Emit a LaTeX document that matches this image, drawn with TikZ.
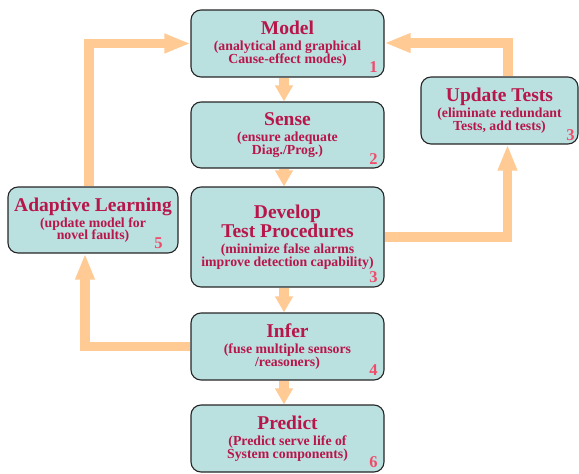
\documentclass[tikz,border=0pt]{standalone}
\usepackage{fontspec}
\setmainfont{Liberation Serif}
\usetikzlibrary{arrows.meta}
\definecolor{boxfill}{HTML}{BBE0E0}
\definecolor{ttl}{HTML}{B8164A}
\definecolor{numc}{HTML}{F04C6A}
\definecolor{arr}{HTML}{FFCA94}
\newcommand{\bxtext}[3]{\parbox{#1}{\centering\color{ttl}\bfseries\lineskiplimit=-30pt
  \fontsize{19.5}{19}\selectfont #2\par\vspace{3.5pt}%
  \fontsize{13.8}{12.5}\selectfont #3\par}}
\tikzset{
  stage/.style={draw=black!85, line width=1.1pt, fill=boxfill, rounded corners=10pt,
    inner sep=0pt, align=center},
  num/.style={text=numc, font=\bfseries\fontsize{16.5}{16}\selectfont, inner sep=0pt},
  longarrow/.style={draw=arr, line width=9.5pt, line join=miter,
    -{Triangle[length=26pt,width=18pt]}},
  shortarrow/.style={draw=arr, line width=9.5pt,
    -{Triangle[length=16pt,width=17pt]}},
}
\begin{document}
\begin{tikzpicture}[x=1pt,y=-1pt]
\useasboundingbox (0,0) rectangle (579,474);
% boxes
\node[stage, minimum width=193pt, minimum height=67pt] (model) at (287.5,43.5)
  {\bxtext{190pt}{Model}{(analytical and graphical\\Cause-effect modes)}};
\node[stage, minimum width=193pt, minimum height=66pt] (sense) at (287.5,135)
  {\bxtext{190pt}{Sense}{(ensure adequate\\Diag./Prog.)}};
\node[stage, minimum width=193pt, minimum height=100pt] (dev) at (287.5,237)
  {\bxtext{190pt}{Develop\\Test Procedures}{(minimize false alarms\\improve detection capability)}};
\node[stage, minimum width=193pt, minimum height=67pt] (infer) at (287.5,346.5)
  {\bxtext{190pt}{Infer}{(fuse multiple sensors\\/reasoners)}};
\node[stage, minimum width=193pt, minimum height=67pt] (pred) at (287.5,438.5)
  {\bxtext{190pt}{Predict}{(Predict serve life of\\System components)}};
\node[stage, minimum width=157pt, minimum height=67pt] (upd) at (499.5,110.5)
  {\bxtext{155pt}{Update Tests}{(eliminate redundant\\Tests, add tests)}};
\node[stage, minimum width=170pt, minimum height=66pt] (adapt) at (93,220)
  {\bxtext{168pt}{Adaptive Learning}{(update model for\\novel faults)}};
% numbers
\node[num] (n1) at ([xshift=-11pt,yshift=10pt]model.south east) {1};
\node[num] (n2) at ([xshift=-11pt,yshift=10pt]sense.south east) {2};
\node[num] (n3) at ([xshift=-11pt,yshift=10pt]dev.south east) {3};
\node[num] (n3b) at ([xshift=-8pt,yshift=9pt]upd.south east) {3};
\node[num] (n4) at ([xshift=-11pt,yshift=10pt]infer.south east) {4};
\node[num] (n5) at ([xshift=-20pt,yshift=10pt]adapt.south east) {5};
\node[num] (n6) at ([xshift=-11pt,yshift=10pt]pred.south east) {6};
% short arrows
\draw[shortarrow] ([xshift=-3.5pt,yshift=-0.5pt]model.south) -- ([xshift=-3.5pt]sense.north);
\draw[shortarrow] ([xshift=-3.5pt,yshift=-0.5pt]sense.south) -- ([xshift=-3.5pt]dev.north);
\draw[shortarrow] ([xshift=-3.5pt,yshift=-0.5pt]dev.south) -- ([xshift=-3.5pt]infer.north);
\draw[shortarrow] ([xshift=-3.5pt,yshift=-0.5pt]infer.south) -- ([xshift=-3.5pt]pred.north);
% long arrows
\draw[longarrow] ([xshift=-4pt,yshift=0.5pt]adapt.north) |- (model.west);
\draw[longarrow] ([xshift=8.5pt,yshift=0.5pt]upd.north) |- ([yshift=0.5pt]model.east);
\draw[longarrow] ([xshift=0.5pt]dev.east) -| ([xshift=8pt]upd.south);
\draw[longarrow] ([xshift=-0.5pt]infer.west) -| ([xshift=-8pt]adapt.south);
\end{tikzpicture}
\end{document}
